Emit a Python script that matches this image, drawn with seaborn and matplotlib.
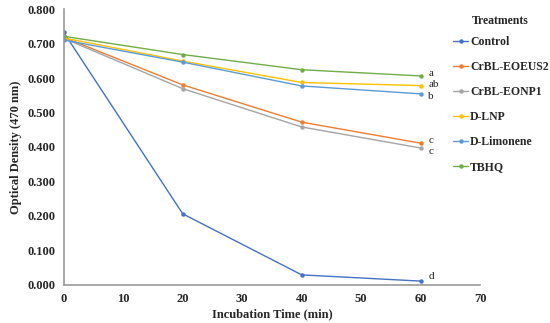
import numpy as np
import pandas as pd
import matplotlib.pyplot as plt
import seaborn as sns

time = [0, 20, 40, 60]
treatments = ["Control", "CrBL-EOEUS2", "CrBL-EONP1", "D-LNP", "D-Limonene", "TBHQ"]
control = [0.732, 0.206, 0.029, 0.011]
eoeus2 = [0.718, 0.580, 0.472, 0.411]
eonp1 = [0.715, 0.569, 0.458, 0.397]
dlnp = [0.716, 0.649, 0.587, 0.578]
limonene = [0.710, 0.646, 0.577, 0.554]
tbhq = [0.721, 0.668, 0.624, 0.606]
letters = ["d", "c", "c", "ab", "b", "a"]
letter_y = [0.023, 0.418, 0.388, 0.580, 0.546, 0.612]
colors = ["#4472C4", "#ED7D31", "#A5A5A5", "#FFC000", "#5B9BD5", "#70AD47"]

series = [control, eoeus2, eonp1, dlnp, limonene, tbhq]
df = pd.DataFrame({
    "time": time * len(treatments),
    "od": np.concatenate(series),
    "Treatments": np.repeat(treatments, len(time)),
})

sns.set_style("white")
plt.rcParams["font.family"] = ["Liberation Serif", "DejaVu Serif"]

fig = plt.figure(figsize=(5.5, 3.23), dpi=100)
ax = fig.add_axes([0.116, 0.118, 0.757, 0.854])

sns.lineplot(data=df, x="time", y="od", hue="Treatments", palette=colors,
             marker="o", markersize=3.2, markeredgewidth=0, linewidth=1.0, ax=ax)

for lt, ly in zip(letters, letter_y):
    ax.text(61.3, ly, lt, fontsize=8, va="center", ha="left", color="#222222")

ax.set_xlim(0, 70)
ax.set_ylim(0, 0.8)
ax.set_xticks(range(0, 71, 10))
ax.set_yticks(np.arange(0, 0.81, 0.1))
ax.set_yticklabels([f"{v:.3f}" for v in np.arange(0, 0.81, 0.1)])
for lab in ax.get_xticklabels() + ax.get_yticklabels():
    lab.set_fontweight("bold")
    lab.set_fontsize(9)
ax.tick_params(axis="both", length=0, pad=6)
ax.set_xlabel("Incubation Time (min)", fontsize=9, fontweight="bold", labelpad=2)
ax.set_ylabel("Optical Density (470 nm)", fontsize=9, fontweight="bold", labelpad=4)

for s in ["top", "right"]:
    ax.spines[s].set_visible(False)
for s in ["left", "bottom"]:
    ax.spines[s].set_color("#999999")
    ax.spines[s].set_linewidth(1.2)

handles, labels = ax.get_legend_handles_labels()
ax.get_legend().remove()
fig.text(472 / 550, 1 - 21 / 323, "Treatments", fontsize=8.5, fontweight="bold",
         ha="left", va="center")
leg = fig.legend(handles, labels, loc="upper left", bbox_to_anchor=(453 / 550, 1 - 36 / 323),
                 frameon=False, fontsize=8.5, handlelength=1.3, handletextpad=0.15,
                 labelspacing=1.11, borderaxespad=0, borderpad=0)
for t in leg.get_texts():
    t.set_fontweight("bold")

fig.savefig("out.png", dpi=100)
